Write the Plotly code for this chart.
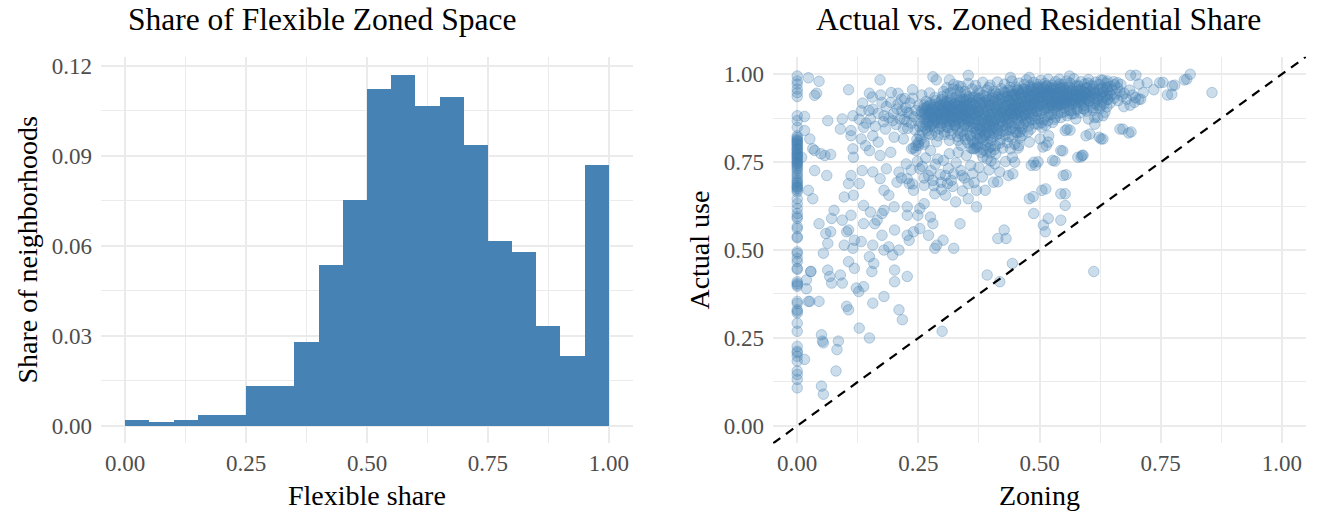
import plotly.graph_objects as go

# ---------------- Histogram data: share of neighborhoods per flexible-share bin
bin_start = [0.00, 0.05, 0.10, 0.15, 0.20, 0.25, 0.30, 0.35, 0.40, 0.45,
             0.50, 0.55, 0.60, 0.65, 0.70, 0.75, 0.80, 0.85, 0.90, 0.95]
bin_width = 0.05
bin_share = [0.0021, 0.0014, 0.0021, 0.0038, 0.0038, 0.0135, 0.0135, 0.0280,
             0.0536, 0.0755, 0.1125, 0.1171, 0.1066, 0.1096, 0.0936, 0.0618,
             0.0581, 0.0333, 0.0234, 0.0870]

# ---------------- Scatter data: (zoned residential share, actual residential use)
# neighborhoods with no residential zoning
no_zoning = [
    (0, 0.995), (0, 0.981), (0, 0.972), (0, 0.958), (0, 0.948), (0, 0.937), (0, 0.882),
    (0, 0.868), (0, 0.849), (0, 0.825), (0, 0.820), (0, 0.816), (0, 0.810), (0, 0.807),
    (0, 0.800), (0, 0.797), (0, 0.792), (0, 0.788), (0, 0.783), (0, 0.778), (0, 0.774),
    (0, 0.769), (0, 0.765), (0, 0.759), (0, 0.755), (0, 0.750), (0, 0.745), (0, 0.741),
    (0, 0.736), (0, 0.731), (0, 0.726), (0, 0.712), (0, 0.705), (0, 0.698), (0, 0.690),
    (0, 0.684), (0, 0.678), (0, 0.675), (0, 0.670), (0, 0.665), (0, 0.646), (0, 0.632),
    (0, 0.618), (0, 0.604), (0, 0.595), (0, 0.590), (0, 0.567), (0, 0.561), (0, 0.538),
    (0, 0.535), (0, 0.495), (0, 0.490), (0, 0.476), (0, 0.467), (0, 0.448), (0, 0.445),
    (0, 0.410), (0, 0.405), (0, 0.401), (0, 0.397), (0, 0.354), (0, 0.348), (0, 0.330),
    (0, 0.326), (0, 0.321), (0, 0.292), (0, 0.269), (0, 0.226), (0, 0.212), (0, 0.208),
    (0, 0.198), (0, 0.184), (0, 0.156), (0, 0.146), (0, 0.132), (0, 0.108),
    (0, 0.812), (0, 0.803), (0, 0.786), (0, 0.772), (0, 0.762), (0, 0.748), (0, 0.718),
    (0, 0.694), (0, 0.681),
]

# scattered neighborhoods away from the main cluster
scattered = [
    (0.015, 0.880), (0.009, 0.764), (0.023, 0.990), (0.045, 0.980), (0.036, 0.940),
    (0.040, 0.946), (0.015, 0.840), (0.026, 0.816), (0.032, 0.788), (0.015, 0.189),
    (0.026, 0.354), (0.028, 0.439), (0.019, 0.415), (0.019, 0.390),
    (0.171, 0.984), (0.106, 0.956), (0.149, 0.946), (0.208, 0.946), (0.280, 0.993),
    (0.287, 0.984), (0.238, 0.956), (0.314, 0.984), (0.353, 0.997), (0.332, 0.967),
    (0.440, 0.991), (0.479, 0.991), (0.562, 0.995), (0.627, 0.984), (0.640, 0.981),
    (0.688, 0.997), (0.661, 0.976), (0.705, 0.972), (0.722, 0.976), (0.748, 0.976),
    (0.774, 0.967), (0.799, 0.984), (0.811, 1.000), (0.856, 0.948), (0.764, 0.941),
    (0.736, 0.956), (0.705, 0.929), (0.674, 0.908), (0.696, 0.920), (0.714, 0.948),
    (0.773, 0.943), (0.779, 0.969), (0.755, 0.977), (0.804, 0.986),
    (0.063, 0.868), (0.093, 0.873), (0.089, 0.844), (0.111, 0.840), (0.115, 0.882),
    (0.111, 0.825), (0.137, 0.849), (0.132, 0.896), (0.156, 0.901), (0.151, 0.873),
    (0.175, 0.920), (0.179, 0.882), (0.193, 0.920), (0.197, 0.868), (0.206, 0.901),
    (0.215, 0.929), (0.227, 0.892), (0.182, 0.844), (0.156, 0.825), (0.132, 0.816),
    (0.036, 0.783), (0.049, 0.774), (0.057, 0.769), (0.069, 0.772), (0.115, 0.788),
    (0.116, 0.764), (0.141, 0.797), (0.149, 0.783), (0.167, 0.807), (0.171, 0.769),
    (0.193, 0.778), (0.200, 0.821), (0.219, 0.816), (0.236, 0.788), (0.250, 0.797),
    (0.245, 0.783), (0.262, 0.807), (0.275, 0.783), (0.290, 0.759), (0.314, 0.774),
    (0.332, 0.778), (0.349, 0.769), (0.366, 0.788), (0.392, 0.759), (0.410, 0.774),
    (0.444, 0.764), (0.440, 0.788), (0.457, 0.797), (0.479, 0.807), (0.488, 0.750),
    (0.492, 0.741), (0.514, 0.797), (0.501, 0.816), (0.519, 0.825), (0.544, 0.783),
    (0.579, 0.764), (0.588, 0.769), (0.553, 0.840), (0.557, 0.844), (0.596, 0.825),
    (0.627, 0.816), (0.623, 0.821), (0.666, 0.844), (0.684, 0.833), (0.601, 0.873),
    (0.614, 0.877), (0.631, 0.882), (0.575, 0.873), (0.566, 0.887), (0.592, 0.901),
    (0.527, 0.863), (0.505, 0.849),
    (0.036, 0.726), (0.061, 0.712), (0.023, 0.670), (0.032, 0.646), (0.106, 0.689),
    (0.097, 0.651), (0.116, 0.656), (0.128, 0.689), (0.111, 0.712), (0.134, 0.726),
    (0.156, 0.722), (0.171, 0.703), (0.179, 0.670), (0.189, 0.656), (0.184, 0.731),
    (0.210, 0.722), (0.206, 0.693), (0.227, 0.703), (0.240, 0.670), (0.231, 0.689),
    (0.253, 0.731), (0.271, 0.712), (0.262, 0.684), (0.280, 0.698), (0.284, 0.660),
    (0.297, 0.693), (0.306, 0.712), (0.310, 0.689), (0.323, 0.717), (0.306, 0.656),
    (0.327, 0.637), (0.340, 0.712), (0.353, 0.689), (0.353, 0.646), (0.370, 0.670),
    (0.370, 0.623), (0.388, 0.670), (0.405, 0.693), (0.436, 0.712), (0.449, 0.750),
    (0.479, 0.646), (0.483, 0.741), (0.505, 0.670), (0.488, 0.604), (0.527, 0.755),
    (0.549, 0.712), (0.544, 0.660), (0.553, 0.627), (0.262, 0.632), (0.253, 0.618),
    (0.227, 0.623), (0.227, 0.599), (0.200, 0.623), (0.179, 0.613), (0.175, 0.604),
    (0.151, 0.608), (0.137, 0.627), (0.111, 0.599),
    (0.076, 0.613), (0.071, 0.590), (0.069, 0.552), (0.045, 0.575), (0.059, 0.547),
    (0.063, 0.519), (0.093, 0.585), (0.102, 0.552), (0.106, 0.557), (0.097, 0.514),
    (0.115, 0.505), (0.118, 0.528), (0.132, 0.524), (0.137, 0.575), (0.156, 0.514),
    (0.160, 0.575), (0.165, 0.585), (0.175, 0.542), (0.179, 0.500), (0.189, 0.509),
    (0.197, 0.486), (0.210, 0.500), (0.201, 0.557), (0.227, 0.542), (0.231, 0.528),
    (0.240, 0.552), (0.253, 0.561), (0.249, 0.599), (0.275, 0.594), (0.280, 0.575),
    (0.271, 0.542), (0.288, 0.514), (0.301, 0.528), (0.284, 0.505), (0.323, 0.505),
    (0.336, 0.575), (0.414, 0.533), (0.431, 0.533), (0.427, 0.557), (0.508, 0.571),
    (0.512, 0.552), (0.518, 0.590), (0.544, 0.585), (0.149, 0.481), (0.154, 0.439),
    (0.158, 0.462),
    (0.054, 0.491), (0.063, 0.443), (0.028, 0.439), (0.067, 0.425), (0.071, 0.406),
    (0.089, 0.429), (0.093, 0.406), (0.106, 0.467), (0.118, 0.448), (0.122, 0.392),
    (0.127, 0.382), (0.137, 0.396), (0.156, 0.349), (0.179, 0.368), (0.201, 0.443),
    (0.201, 0.410), (0.227, 0.425), (0.210, 0.330), (0.217, 0.302), (0.102, 0.340),
    (0.106, 0.330), (0.023, 0.354), (0.045, 0.354), (0.128, 0.278), (0.149, 0.250),
    (0.299, 0.269), (0.392, 0.429), (0.418, 0.410), (0.444, 0.462), (0.612, 0.439),
    (0.050, 0.259), (0.052, 0.241), (0.054, 0.236), (0.085, 0.241), (0.082, 0.217),
    (0.080, 0.156), (0.050, 0.113), (0.054, 0.090),
    (0.445, 0.717), (0.414, 0.694), (0.456, 0.790), (0.460, 0.819), (0.400, 0.753),
    (0.563, 0.841), (0.631, 0.816), (0.604, 0.830), (0.672, 0.844), (0.689, 0.836),
    (0.555, 0.714), (0.590, 0.770), (0.586, 0.765), (0.548, 0.782), (0.532, 0.753),
    (0.513, 0.674), (0.553, 0.660), (0.487, 0.652), (0.497, 0.751), (0.507, 0.793),
    (0.518, 0.807), (0.513, 0.855), (0.614, 0.858), (0.620, 0.878), (0.635, 0.892),
    (0.687, 0.912), (0.709, 0.929), (0.699, 0.997), (0.476, 0.836),
    (0.225, 0.745), (0.235, 0.728), (0.248, 0.752), (0.258, 0.738), (0.265, 0.762),
    (0.276, 0.726), (0.285, 0.744), (0.295, 0.715), (0.302, 0.755), (0.312, 0.732),
    (0.318, 0.698), (0.328, 0.748), (0.338, 0.726), (0.345, 0.705), (0.358, 0.741),
    (0.362, 0.718), (0.375, 0.735), (0.382, 0.708), (0.396, 0.728), (0.408, 0.745),
    (0.418, 0.722), (0.430, 0.752), (0.215, 0.705), (0.238, 0.688), (0.262, 0.705),
    (0.282, 0.683), (0.298, 0.672), (0.321, 0.681), (0.341, 0.668), (0.365, 0.692),
    (0.128, 0.872), (0.135, 0.918), (0.142, 0.861), (0.148, 0.897), (0.155, 0.935),
    (0.161, 0.852), (0.167, 0.889), (0.172, 0.941), (0.178, 0.865), (0.184, 0.908),
    (0.189, 0.876), (0.194, 0.948), (0.199, 0.888), (0.204, 0.857), (0.208, 0.915),
    (0.212, 0.873), (0.216, 0.896), (0.219, 0.846), (0.222, 0.931), (0.226, 0.866),
]

# main cluster: mostly-residential neighborhoods with 20-70% residential zoning
cluster = [
    (0.221, 0.872), (0.224, 0.905), (0.228, 0.846), (0.231, 0.889), (0.233, 0.918),
    (0.236, 0.861), (0.238, 0.932), (0.241, 0.879), (0.243, 0.842), (0.245, 0.897),
    (0.247, 0.815), (0.249, 0.868), (0.251, 0.912), (0.253, 0.826), (0.255, 0.884),
    (0.257, 0.941), (0.259, 0.853), (0.261, 0.902), (0.262, 0.801), (0.264, 0.876),
    (0.266, 0.923), (0.268, 0.839), (0.270, 0.891), (0.272, 0.862), (0.273, 0.947),
    (0.275, 0.913), (0.277, 0.828), (0.279, 0.878), (0.281, 0.899), (0.282, 0.851),
    (0.284, 0.934), (0.286, 0.869), (0.288, 0.808), (0.289, 0.906), (0.291, 0.884),
    (0.293, 0.845), (0.295, 0.921), (0.297, 0.893), (0.298, 0.861), (0.300, 0.937),
    (0.245, 0.797), (0.240, 0.790), (0.250, 0.805), (0.255, 0.815),
    (0.301, 0.872), (0.302, 0.905), (0.304, 0.829), (0.305, 0.918), (0.307, 0.884),
    (0.308, 0.851), (0.310, 0.944), (0.311, 0.896), (0.313, 0.866), (0.314, 0.812),
    (0.316, 0.927), (0.317, 0.879), (0.319, 0.903), (0.320, 0.841), (0.322, 0.958),
    (0.323, 0.889), (0.325, 0.914), (0.326, 0.857), (0.328, 0.935), (0.329, 0.873),
    (0.331, 0.823), (0.332, 0.898), (0.334, 0.920), (0.335, 0.862), (0.337, 0.949),
    (0.338, 0.884), (0.340, 0.907), (0.341, 0.838), (0.343, 0.928), (0.344, 0.871),
    (0.346, 0.895), (0.347, 0.815), (0.349, 0.942), (0.350, 0.882), (0.352, 0.911),
    (0.353, 0.853), (0.355, 0.930), (0.356, 0.868), (0.358, 0.899), (0.359, 0.790),
    (0.305, 0.892), (0.315, 0.887), (0.325, 0.877), (0.335, 0.902), (0.345, 0.912),
    (0.355, 0.892), (0.312, 0.909), (0.322, 0.899), (0.342, 0.889), (0.352, 0.874),
    (0.361, 0.918), (0.362, 0.859), (0.364, 0.887), (0.365, 0.804), (0.367, 0.936),
    (0.368, 0.873), (0.370, 0.902), (0.371, 0.829), (0.373, 0.953), (0.374, 0.891),
    (0.376, 0.846), (0.377, 0.919), (0.379, 0.778), (0.380, 0.867), (0.382, 0.905),
    (0.383, 0.819), (0.385, 0.940), (0.386, 0.882), (0.388, 0.797), (0.389, 0.925),
    (0.391, 0.857), (0.392, 0.896), (0.394, 0.835), (0.395, 0.962), (0.397, 0.876),
    (0.398, 0.911), (0.400, 0.812), (0.401, 0.889), (0.403, 0.933), (0.404, 0.851),
    (0.406, 0.905), (0.407, 0.786), (0.409, 0.872), (0.410, 0.946), (0.412, 0.828),
    (0.413, 0.894), (0.415, 0.917), (0.416, 0.861), (0.418, 0.804), (0.419, 0.882),
    (0.366, 0.888), (0.375, 0.898), (0.384, 0.872), (0.393, 0.912), (0.402, 0.867),
    (0.411, 0.899), (0.378, 0.842), (0.387, 0.826), (0.396, 0.852), (0.405, 0.833),
    (0.372, 0.815), (0.390, 0.780), (0.399, 0.793), (0.383, 0.765), (0.369, 0.790),
    (0.421, 0.927), (0.422, 0.866), (0.424, 0.898), (0.425, 0.838), (0.427, 0.951),
    (0.428, 0.884), (0.430, 0.912), (0.431, 0.853), (0.433, 0.937), (0.434, 0.874),
    (0.436, 0.905), (0.437, 0.822), (0.439, 0.963), (0.440, 0.891), (0.442, 0.918),
    (0.443, 0.862), (0.445, 0.942), (0.446, 0.879), (0.448, 0.908), (0.449, 0.846),
    (0.451, 0.931), (0.452, 0.887), (0.454, 0.955), (0.455, 0.869), (0.457, 0.915),
    (0.458, 0.898), (0.460, 0.836), (0.461, 0.944), (0.463, 0.878), (0.464, 0.924),
    (0.466, 0.906), (0.467, 0.859), (0.469, 0.971), (0.470, 0.889), (0.472, 0.933),
    (0.473, 0.874), (0.475, 0.912), (0.476, 0.951), (0.478, 0.866), (0.479, 0.928),
    (0.481, 0.896), (0.482, 0.844), (0.484, 0.939), (0.485, 0.903), (0.487, 0.882),
    (0.488, 0.962), (0.490, 0.919), (0.491, 0.871), (0.493, 0.947), (0.494, 0.895),
    (0.496, 0.928), (0.497, 0.858), (0.499, 0.912),
    (0.426, 0.905), (0.435, 0.925), (0.444, 0.902), (0.453, 0.915), (0.462, 0.903),
    (0.471, 0.918), (0.480, 0.909), (0.489, 0.927), (0.498, 0.935), (0.432, 0.888),
    (0.450, 0.892), (0.468, 0.884), (0.486, 0.918),
    (0.501, 0.934), (0.503, 0.889), (0.505, 0.957), (0.507, 0.916), (0.509, 0.871),
    (0.511, 0.942), (0.513, 0.903), (0.515, 0.968), (0.517, 0.926), (0.519, 0.884),
    (0.521, 0.949), (0.523, 0.912), (0.525, 0.938), (0.527, 0.897), (0.529, 0.961),
    (0.531, 0.923), (0.533, 0.878), (0.535, 0.946), (0.537, 0.909), (0.539, 0.935),
    (0.541, 0.972), (0.543, 0.917), (0.545, 0.891), (0.547, 0.952), (0.549, 0.929),
    (0.551, 0.905), (0.553, 0.944), (0.555, 0.921), (0.557, 0.963), (0.559, 0.936),
    (0.561, 0.898), (0.563, 0.951), (0.565, 0.927), (0.567, 0.913), (0.569, 0.958),
    (0.571, 0.939), (0.573, 0.918), (0.575, 0.947), (0.577, 0.903), (0.579, 0.931),
    (0.581, 0.966), (0.583, 0.942), (0.585, 0.922), (0.587, 0.954), (0.589, 0.937),
    (0.591, 0.911), (0.593, 0.948), (0.595, 0.929), (0.597, 0.962), (0.599, 0.941),
    (0.506, 0.925), (0.516, 0.935), (0.526, 0.920), (0.536, 0.928), (0.546, 0.938),
    (0.556, 0.930), (0.566, 0.940), (0.576, 0.935), (0.586, 0.930), (0.596, 0.945),
    (0.512, 0.945), (0.532, 0.940), (0.552, 0.915), (0.572, 0.925),
    (0.602, 0.924), (0.605, 0.952), (0.608, 0.938), (0.611, 0.965), (0.614, 0.917),
    (0.617, 0.946), (0.620, 0.931), (0.623, 0.958), (0.626, 0.941), (0.629, 0.922),
    (0.632, 0.951), (0.635, 0.936), (0.638, 0.963), (0.641, 0.928), (0.644, 0.947),
    (0.647, 0.939), (0.650, 0.956), (0.654, 0.932), (0.658, 0.944), (0.662, 0.925),
    (0.666, 0.951), (0.670, 0.938), (0.675, 0.946), (0.680, 0.929), (0.686, 0.955),
    (0.692, 0.941), (0.698, 0.934), (0.610, 0.905), (0.625, 0.910), (0.640, 0.962),
    (0.655, 0.970), (0.600, 0.975),
]

# densest part of the cluster (overplotted core)
cluster_core = [
    (0.262, 0.871), (0.262, 0.893), (0.262, 0.912), (0.266, 0.858), (0.266, 0.884),
    (0.266, 0.905), (0.270, 0.876), (0.270, 0.899), (0.270, 0.866), (0.274, 0.889),
    (0.274, 0.918), (0.274, 0.852), (0.278, 0.869), (0.278, 0.902), (0.278, 0.884),
    (0.282, 0.881), (0.282, 0.914), (0.282, 0.861), (0.286, 0.893), (0.286, 0.874),
    (0.286, 0.925), (0.290, 0.862), (0.290, 0.897), (0.290, 0.880), (0.294, 0.886),
    (0.294, 0.909), (0.294, 0.871), (0.298, 0.874), (0.298, 0.901), (0.298, 0.928),
    (0.302, 0.883), (0.302, 0.864), (0.302, 0.915), (0.306, 0.897), (0.306, 0.876),
    (0.306, 0.922), (0.310, 0.868), (0.310, 0.889), (0.310, 0.906), (0.314, 0.881),
    (0.314, 0.912), (0.314, 0.859), (0.318, 0.894), (0.318, 0.872), (0.318, 0.931),
    (0.322, 0.877), (0.322, 0.904), (0.322, 0.866), (0.326, 0.889), (0.326, 0.918),
    (0.326, 0.853), (0.330, 0.872), (0.330, 0.896), (0.330, 0.927), (0.334, 0.884),
    (0.334, 0.911), (0.334, 0.864), (0.338, 0.897), (0.338, 0.876), (0.338, 0.935),
    (0.342, 0.869), (0.342, 0.902), (0.342, 0.884), (0.346, 0.881), (0.346, 0.921),
    (0.346, 0.858), (0.350, 0.893), (0.350, 0.874), (0.350, 0.912), (0.354, 0.866),
    (0.354, 0.899), (0.354, 0.936), (0.358, 0.887), (0.358, 0.908), (0.358, 0.851),
    (0.362, 0.875), (0.362, 0.897), (0.362, 0.926), (0.366, 0.861), (0.366, 0.889),
    (0.366, 0.914), (0.370, 0.882), (0.370, 0.904), (0.370, 0.843), (0.374, 0.869),
    (0.374, 0.893), (0.374, 0.931), (0.378, 0.884), (0.378, 0.912), (0.378, 0.855),
    (0.382, 0.873), (0.382, 0.899), (0.382, 0.838), (0.386, 0.862), (0.386, 0.887),
    (0.386, 0.921), (0.390, 0.879), (0.390, 0.907), (0.390, 0.848), (0.394, 0.868),
    (0.394, 0.894), (0.394, 0.928), (0.398, 0.883), (0.398, 0.913), (0.398, 0.857),
    (0.402, 0.875), (0.402, 0.899), (0.402, 0.842), (0.406, 0.889), (0.406, 0.921),
    (0.406, 0.864), (0.410, 0.872), (0.410, 0.904), (0.410, 0.935), (0.414, 0.886),
    (0.414, 0.911), (0.414, 0.853), (0.418, 0.877), (0.418, 0.898), (0.418, 0.929),
    (0.422, 0.891), (0.422, 0.916), (0.422, 0.866), (0.426, 0.879), (0.426, 0.907),
    (0.426, 0.938), (0.430, 0.894), (0.430, 0.922), (0.430, 0.871), (0.434, 0.884),
    (0.434, 0.911), (0.434, 0.858), (0.438, 0.897), (0.438, 0.926), (0.438, 0.874),
    (0.442, 0.888), (0.442, 0.915), (0.442, 0.941), (0.446, 0.899), (0.446, 0.927),
    (0.446, 0.878), (0.450, 0.886), (0.450, 0.912), (0.450, 0.944), (0.454, 0.903),
    (0.454, 0.931), (0.454, 0.875), (0.458, 0.891), (0.458, 0.918), (0.458, 0.947),
    (0.462, 0.906), (0.462, 0.934), (0.462, 0.882), (0.466, 0.895), (0.466, 0.921),
    (0.466, 0.951), (0.470, 0.909), (0.470, 0.937), (0.470, 0.884), (0.474, 0.898),
    (0.474, 0.925), (0.474, 0.953), (0.478, 0.911), (0.478, 0.939), (0.478, 0.887),
    (0.482, 0.902), (0.482, 0.928), (0.482, 0.956), (0.486, 0.914), (0.486, 0.942),
    (0.486, 0.889), (0.490, 0.905), (0.490, 0.931), (0.490, 0.958), (0.494, 0.917),
    (0.494, 0.945), (0.494, 0.893), (0.498, 0.908), (0.498, 0.934), (0.498, 0.961),
    (0.502, 0.919), (0.502, 0.947), (0.502, 0.896), (0.506, 0.911), (0.506, 0.937),
    (0.506, 0.963), (0.510, 0.922), (0.510, 0.949), (0.510, 0.899), (0.514, 0.913),
    (0.514, 0.939), (0.514, 0.965), (0.518, 0.925), (0.518, 0.952), (0.518, 0.902),
    (0.522, 0.916), (0.522, 0.942), (0.522, 0.906), (0.526, 0.928), (0.526, 0.954),
    (0.526, 0.911), (0.530, 0.918), (0.530, 0.945), (0.530, 0.904), (0.534, 0.931),
    (0.534, 0.957), (0.534, 0.913), (0.538, 0.921), (0.538, 0.947), (0.538, 0.908),
    (0.542, 0.933), (0.542, 0.959), (0.542, 0.915), (0.546, 0.924), (0.546, 0.949),
    (0.546, 0.911), (0.550, 0.936), (0.550, 0.962), (0.550, 0.918), (0.556, 0.927),
    (0.556, 0.951), (0.556, 0.914), (0.562, 0.938), (0.562, 0.964), (0.562, 0.921),
    (0.568, 0.929), (0.568, 0.953), (0.568, 0.917), (0.574, 0.941), (0.574, 0.966),
    (0.574, 0.924), (0.580, 0.932), (0.580, 0.955), (0.580, 0.919), (0.586, 0.943),
    (0.586, 0.927), (0.586, 0.958), (0.592, 0.934), (0.592, 0.949), (0.592, 0.921),
    (0.598, 0.945), (0.598, 0.930), (0.598, 0.961), (0.604, 0.936), (0.604, 0.951),
    (0.604, 0.924), (0.612, 0.947), (0.612, 0.932), (0.612, 0.958), (0.620, 0.938),
    (0.620, 0.953), (0.620, 0.926), (0.630, 0.949), (0.630, 0.935), (0.630, 0.961),
    (0.640, 0.940), (0.640, 0.955), (0.640, 0.928),
    (0.332, 0.812), (0.338, 0.798), (0.344, 0.826), (0.352, 0.805), (0.358, 0.821),
    (0.363, 0.788), (0.368, 0.834), (0.373, 0.801), (0.378, 0.817), (0.384, 0.785),
    (0.389, 0.829), (0.394, 0.808), (0.399, 0.776), (0.404, 0.822), (0.409, 0.797),
    (0.414, 0.839), (0.419, 0.813), (0.424, 0.790), (0.429, 0.827), (0.434, 0.805),
    (0.439, 0.842), (0.444, 0.819), (0.449, 0.801), (0.454, 0.834), (0.459, 0.851),
    (0.464, 0.826), (0.385, 0.812), (0.372, 0.795), (0.395, 0.790), (0.362, 0.810),
]

# upper, lower and middle bands of the cluster
cluster_bands = [
    (0.302, 0.951), (0.309, 0.962), (0.316, 0.947), (0.323, 0.971), (0.331, 0.955),
    (0.338, 0.965), (0.346, 0.951), (0.353, 0.974), (0.361, 0.958), (0.368, 0.968),
    (0.376, 0.947), (0.383, 0.977), (0.391, 0.955), (0.398, 0.969), (0.406, 0.951),
    (0.413, 0.978), (0.421, 0.959), (0.428, 0.972), (0.436, 0.954), (0.443, 0.981),
    (0.451, 0.963), (0.458, 0.975), (0.466, 0.958), (0.473, 0.984), (0.481, 0.967),
    (0.488, 0.977), (0.496, 0.971), (0.503, 0.983), (0.511, 0.974), (0.518, 0.986),
    (0.526, 0.969), (0.533, 0.979), (0.541, 0.986), (0.548, 0.971), (0.556, 0.981),
    (0.563, 0.975), (0.571, 0.987), (0.578, 0.969), (0.586, 0.979), (0.593, 0.972),
    (0.601, 0.985), (0.608, 0.969), (0.616, 0.978), (0.623, 0.971), (0.631, 0.983),
    (0.638, 0.975), (0.646, 0.966), (0.653, 0.979), (0.661, 0.962), (0.668, 0.971),
    (0.252, 0.852), (0.258, 0.838), (0.265, 0.846), (0.271, 0.831), (0.278, 0.857),
    (0.284, 0.839), (0.291, 0.825), (0.297, 0.852), (0.304, 0.836), (0.311, 0.848),
    (0.317, 0.829), (0.324, 0.855), (0.331, 0.842), (0.337, 0.831), (0.344, 0.853),
    (0.351, 0.838), (0.357, 0.826), (0.364, 0.848), (0.371, 0.857), (0.377, 0.831),
    (0.384, 0.851), (0.391, 0.842), (0.397, 0.826), (0.404, 0.857), (0.411, 0.845),
    (0.417, 0.832), (0.424, 0.853), (0.431, 0.841), (0.437, 0.862), (0.444, 0.849),
    (0.451, 0.835), (0.457, 0.858), (0.464, 0.846), (0.471, 0.866), (0.477, 0.852),
    (0.484, 0.871), (0.491, 0.859), (0.497, 0.874), (0.504, 0.862), (0.511, 0.879),
    (0.517, 0.868), (0.524, 0.885), (0.531, 0.872), (0.537, 0.889), (0.544, 0.877),
    (0.551, 0.893), (0.557, 0.882), (0.564, 0.896), (0.571, 0.888), (0.577, 0.899),
    (0.584, 0.891), (0.591, 0.902), (0.597, 0.895), (0.604, 0.906), (0.611, 0.898),
    (0.618, 0.912), (0.625, 0.903), (0.632, 0.915), (0.639, 0.907), (0.646, 0.918),
    (0.256, 0.895), (0.263, 0.887), (0.269, 0.909), (0.276, 0.894), (0.283, 0.906),
    (0.289, 0.889), (0.296, 0.912), (0.303, 0.898), (0.309, 0.921), (0.316, 0.904),
    (0.323, 0.917), (0.329, 0.908), (0.336, 0.925), (0.343, 0.912), (0.349, 0.928),
    (0.356, 0.917), (0.363, 0.935), (0.369, 0.921), (0.376, 0.932), (0.383, 0.918),
    (0.389, 0.937), (0.396, 0.925), (0.403, 0.941), (0.409, 0.928), (0.416, 0.944),
    (0.423, 0.932), (0.429, 0.948), (0.436, 0.936), (0.443, 0.951), (0.449, 0.939),
    (0.456, 0.955), (0.463, 0.942), (0.469, 0.958), (0.476, 0.945), (0.483, 0.961),
    (0.489, 0.948), (0.496, 0.964), (0.503, 0.952), (0.509, 0.959), (0.516, 0.955),
    (0.523, 0.962), (0.529, 0.958), (0.536, 0.966), (0.543, 0.961), (0.549, 0.955),
    (0.556, 0.942), (0.563, 0.945), (0.569, 0.932), (0.576, 0.951), (0.583, 0.936),
]

neighborhoods = no_zoning + scattered + cluster + cluster_core + cluster_bands
zoning = [p[0] for p in neighborhoods]
actual_use = [p[1] for p in neighborhoods]

# ---------------- Styling
STEEL = "#4682B4"
GRID = "#EBEBEB"
FONT = "Liberation Serif"
W, H = 1317, 515

hist_xrange = [-0.05, 1.05]
hist_yrange = [-0.00586, 0.1230]
sc_range = [-0.05, 1.05]

fig = go.Figure()

fig.add_trace(go.Bar(
    x=bin_start, y=bin_share, width=bin_width, offset=0,
    marker=dict(color=STEEL, line=dict(width=0)),
    xaxis="x", yaxis="y", showlegend=False, hoverinfo="skip",
))

fig.add_trace(go.Scatter(
    x=zoning, y=actual_use, mode="markers",
    marker=dict(size=10.5, color="rgba(70,130,180,0.28)",
                line=dict(width=1, color="rgba(70,130,180,0.34)")),
    xaxis="x2", yaxis="y2", showlegend=False, hoverinfo="skip",
))

# 45-degree reference line across the full panel
fig.add_trace(go.Scatter(
    x=sc_range, y=sc_range, mode="lines",
    line=dict(color="black", width=2.2, dash="9px,7px"),
    xaxis="x2", yaxis="y2", showlegend=False, hoverinfo="skip",
))

y_dom = [1 - 443 / H, 1 - 54 / H]
tickfont = dict(family=FONT, size=23, color="#4D4D4D")

common_axis = dict(showline=False, zeroline=False, ticks="", showgrid=True,
                   gridcolor=GRID, gridwidth=2, tickfont=tickfont)

quarter_vals = [0, 0.25, 0.5, 0.75, 1.0]
quarter_text = ["0.00", "0.25", "0.50", "0.75", "1.00"]
quarter_minor = [0.125, 0.375, 0.625, 0.875]

fig.update_layout(
    width=W, height=H,
    margin=dict(l=0, r=0, t=0, b=0),
    paper_bgcolor="white", plot_bgcolor="white",
    font=dict(family=FONT),
    bargap=0,
    xaxis=dict(domain=[101 / W, 633 / W], range=hist_xrange,
               tickvals=quarter_vals, ticktext=quarter_text,
               minor=dict(tickvals=quarter_minor, showgrid=True,
                          gridcolor=GRID, gridwidth=1, ticks=""),
               ticklabelstandoff=4, anchor="y", **common_axis),
    yaxis=dict(domain=y_dom, range=hist_yrange,
               tickvals=[0, 0.03, 0.06, 0.09, 0.12],
               ticktext=["0.00", "0.03", "0.06", "0.09", "0.12"],
               minor=dict(tickvals=[0.015, 0.045, 0.075, 0.105], showgrid=True,
                          gridcolor=GRID, gridwidth=1, ticks=""),
               ticklabelstandoff=8, anchor="x", **common_axis),
    xaxis2=dict(domain=[773 / W, 1306 / W], range=sc_range,
                tickvals=quarter_vals, ticktext=quarter_text,
                minor=dict(tickvals=quarter_minor, showgrid=True,
                           gridcolor=GRID, gridwidth=1, ticks=""),
                ticklabelstandoff=4, anchor="y2", **common_axis),
    yaxis2=dict(domain=y_dom, range=sc_range,
                tickvals=quarter_vals, ticktext=quarter_text,
                minor=dict(tickvals=quarter_minor, showgrid=True,
                           gridcolor=GRID, gridwidth=1, ticks=""),
                ticklabelstandoff=8, anchor="x2", **common_axis),
)

title_font = dict(family=FONT, size=31.5, color="black")
axis_font = dict(family=FONT, size=28, color="black")

annotations = [
    dict(text="Share of Flexible Zoned Space", x=322 / W, y=1 - 17 / H,
         font=title_font),
    dict(text="Actual vs. Zoned Residential Share", x=1038 / W, y=1 - 17 / H,
         font=title_font),
    dict(text="Flexible share", x=367 / W, y=1 - 495 / H, font=axis_font),
    dict(text="Zoning", x=1039 / W, y=1 - 495 / H, font=axis_font),
    dict(text="Share of neighborhoods", x=28 / W, y=1 - 248 / H, font=axis_font,
         textangle=-90),
    dict(text="Actual use", x=700 / W, y=1 - 248 / H, font=axis_font,
         textangle=-90),
]
for a in annotations:
    a.update(xref="paper", yref="paper", showarrow=False,
             xanchor="center", yanchor="middle")
fig.update_layout(annotations=annotations)

fig.write_html("out.html")
